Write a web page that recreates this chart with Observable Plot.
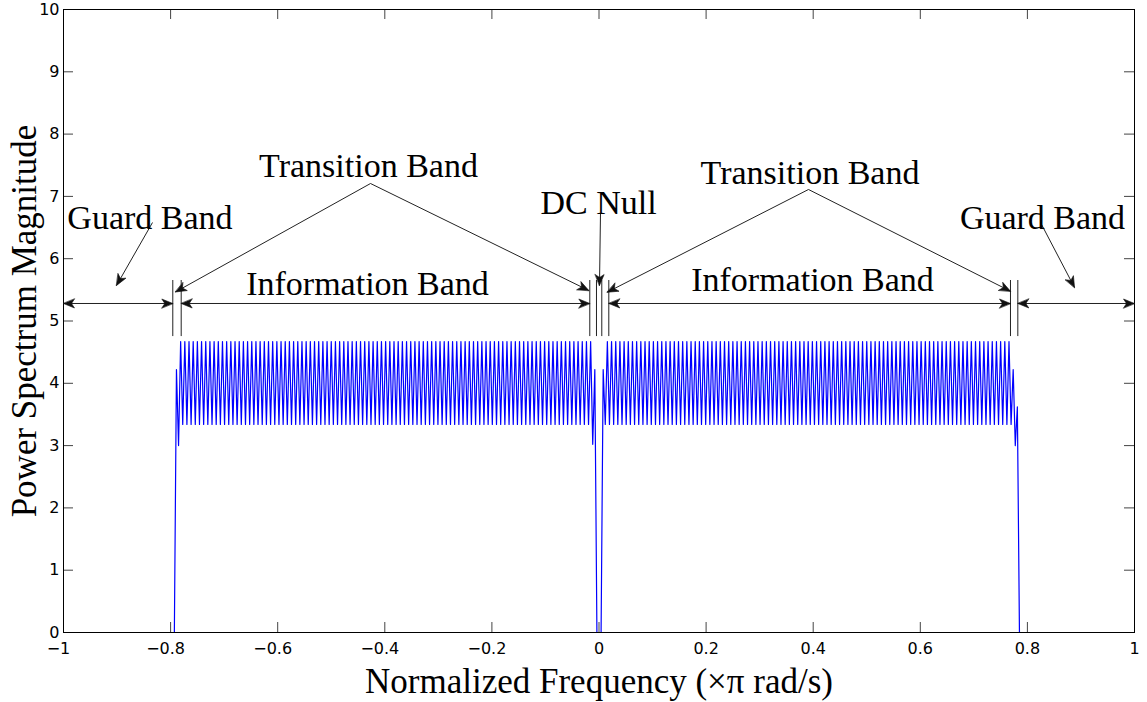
<!DOCTYPE html>
<html><head><meta charset="utf-8">
<script src="https://cdn.jsdelivr.net/npm/d3@7"></script>
<script src="https://cdn.jsdelivr.net/npm/@observablehq/plot@0.6"></script>
<style>body{margin:0;background:#fff}</style>
</head><body><div id="chart"></div>
<script>
// ---- data: power spectrum samples (bin index k, frequency = k / 256 ×π rad/s) ----
const binStart = -203;
const binsPerUnit = 256;
const magnitudes = [
  0, 4.22, 3.0,
  4.67, 3.34, 4.67, 3.34, 4.67, 3.34, 4.67, 3.34, 4.67, 3.34, 4.67, 3.34, 4.67, 3.34, 4.67, 3.34, 4.67, 3.34, 4.67, 3.34,
  4.67, 3.34, 4.67, 3.34, 4.67, 3.34, 4.67, 3.34, 4.67, 3.34, 4.67, 3.34, 4.67, 3.34, 4.67, 3.34, 4.67, 3.34, 4.67, 3.34,
  4.67, 3.34, 4.67, 3.34, 4.67, 3.34, 4.67, 3.34, 4.67, 3.34, 4.67, 3.34, 4.67, 3.34, 4.67, 3.34, 4.67, 3.34, 4.67, 3.34,
  4.67, 3.34, 4.67, 3.34, 4.67, 3.34, 4.67, 3.34, 4.67, 3.34, 4.67, 3.34, 4.67, 3.34, 4.67, 3.34, 4.67, 3.34, 4.67, 3.34,
  4.67, 3.34, 4.67, 3.34, 4.67, 3.34, 4.67, 3.34, 4.67, 3.34, 4.67, 3.34, 4.67, 3.34, 4.67, 3.34, 4.67, 3.34, 4.67, 3.34,
  4.67, 3.34, 4.67, 3.34, 4.67, 3.34, 4.67, 3.34, 4.67, 3.34, 4.67, 3.34, 4.67, 3.34, 4.67, 3.34, 4.67, 3.34, 4.67, 3.34,
  4.67, 3.34, 4.67, 3.34, 4.67, 3.34, 4.67, 3.34, 4.67, 3.34, 4.67, 3.34, 4.67, 3.34, 4.67, 3.34, 4.67, 3.34, 4.67, 3.34,
  4.67, 3.34, 4.67, 3.34, 4.67, 3.34, 4.67, 3.34, 4.67, 3.34, 4.67, 3.34, 4.67, 3.34, 4.67, 3.34, 4.67, 3.34, 4.67, 3.34,
  4.67, 3.34, 4.67, 3.34, 4.67, 3.34, 4.67, 3.34, 4.67, 3.34, 4.67, 3.34, 4.67, 3.34, 4.67, 3.34, 4.67, 3.34, 4.67, 3.34,
  4.67, 3.34, 4.67, 3.34, 4.67, 3.34, 4.67, 3.34, 4.67, 3.34, 4.67, 3.34, 4.67, 3.34, 4.67, 3.34,
  4.67,
  3.02, 4.22, 0, 0, 0, 4.22, 3.34,
  4.67, 3.34, 4.67, 3.34, 4.67, 3.34, 4.67, 3.34, 4.67, 3.34, 4.67, 3.34, 4.67, 3.34, 4.67, 3.34, 4.67, 3.34, 4.67, 3.34,
  4.67, 3.34, 4.67, 3.34, 4.67, 3.34, 4.67, 3.34, 4.67, 3.34, 4.67, 3.34, 4.67, 3.34, 4.67, 3.34, 4.67, 3.34, 4.67, 3.34,
  4.67, 3.34, 4.67, 3.34, 4.67, 3.34, 4.67, 3.34, 4.67, 3.34, 4.67, 3.34, 4.67, 3.34, 4.67, 3.34, 4.67, 3.34, 4.67, 3.34,
  4.67, 3.34, 4.67, 3.34, 4.67, 3.34, 4.67, 3.34, 4.67, 3.34, 4.67, 3.34, 4.67, 3.34, 4.67, 3.34, 4.67, 3.34, 4.67, 3.34,
  4.67, 3.34, 4.67, 3.34, 4.67, 3.34, 4.67, 3.34, 4.67, 3.34, 4.67, 3.34, 4.67, 3.34, 4.67, 3.34, 4.67, 3.34, 4.67, 3.34,
  4.67, 3.34, 4.67, 3.34, 4.67, 3.34, 4.67, 3.34, 4.67, 3.34, 4.67, 3.34, 4.67, 3.34, 4.67, 3.34, 4.67, 3.34, 4.67, 3.34,
  4.67, 3.34, 4.67, 3.34, 4.67, 3.34, 4.67, 3.34, 4.67, 3.34, 4.67, 3.34, 4.67, 3.34, 4.67, 3.34, 4.67, 3.34, 4.67, 3.34,
  4.67, 3.34, 4.67, 3.34, 4.67, 3.34, 4.67, 3.34, 4.67, 3.34, 4.67, 3.34, 4.67, 3.34, 4.67, 3.34, 4.67, 3.34, 4.67, 3.34,
  4.67, 3.34, 4.67, 3.34, 4.67, 3.34, 4.67, 3.34, 4.67, 3.34, 4.67, 3.34, 4.67, 3.34, 4.67, 3.34, 4.67, 3.34, 4.67, 3.34,
  4.67, 3.34, 4.67, 3.34, 4.67, 3.34, 4.67, 3.34, 4.67, 3.34, 4.67, 3.34,
  4.67,
  3.34, 4.22, 3.0, 3.62, 0
];
if (magnitudes.length !== 405) throw new Error("magnitudes length " + magnitudes.length);
const edgeFreqs = [-1, 1];

// ---- axes ----
const xTicks = [-1, -0.8, -0.6, -0.4, -0.2, 0, 0.2, 0.4, 0.6, 0.8, 1];
const yTicks = [0, 1, 2, 3, 4, 5, 6, 7, 8, 9, 10];
const xTitle = "Normalized Frequency (×π rad/s)";
const yTitle = "Power Spectrum Magnitude";

// ---- annotations (data coordinates) ----
const labelText = ["Guard Band", "Transition Band", "DC Null", "Transition Band", "Guard Band", "Information Band", "Information Band"];
const labelX = [-0.8385, -0.4304, -0.0009, 0.3940, 0.8282, -0.4323, 0.3987];
const labelY = [6.645, 7.49, 6.886, 7.376, 6.645, 5.60, 5.65];

const arrowX1 = [-0.8338, -0.4267, -0.4267, 0.0028, 0.3912, 0.3912, 0.8245];
const arrowY1 = [6.581, 7.207, 7.207, 6.726, 7.111, 7.111, 6.581];
const arrowX2 = [-0.9010, -0.7909, -0.0191, 0.0009, 0.0153, 0.7684, 0.8880];
const arrowY2 = [5.570, 5.466, 5.490, 5.570, 5.462, 5.478, 5.538];

const spanX1 = [-1, -0.7802, 0.0183, 0.7821];
const spanX2 = [-0.7959, -0.0172, 0.7684, 1];
const spanY = 5.281;

const barX = [-0.7959, -0.7802, -0.0172, -0.0047, 0.0052, 0.0183, 0.7684, 0.7821];
const barY1 = 4.75, barY2 = 5.65;

// ---- layout ----
const W = 1147, H = 702, mL = 63, mR = 13, mT = 9, mB = 70;
const frameW = W - mL - mR, frameH = H - mT - mB, tickLen = 10;
const xDomain = [-1, 1], yDomain = [0, 10];
const pxPerX = frameW / (xDomain[1] - xDomain[0]);
const pxPerY = frameH / (yDomain[1] - yDomain[0]);
const serif = "Liberation Serif";
const fmt = d => (d < 0 ? "\u2212" : "") + String(Math.abs(d));

// ---- tables ----
const spectrum = [
  {f: edgeFreqs[0], m: 0},
  ...magnitudes.map((m, i) => ({f: (binStart + i) / binsPerUnit, m})),
  {f: edgeFreqs[1], m: 0}
];
const labels = labelText.map((t, i) => ({t, x: labelX[i], y: labelY[i]}));
// every line segment, and one arrowhead per pointed end
const segments = [
  ...arrowX1.map((x1, i) => ({x1, y1: arrowY1[i], x2: arrowX2[i], y2: arrowY2[i]})),
  ...spanX1.map((x1, i) => ({x1, y1: spanY, x2: spanX2[i], y2: spanY}))
];
const heading = (fx, fy, tx, ty) => Math.atan2((tx - fx) * pxPerX, (ty - fy) * pxPerY) * 180 / Math.PI;
const heads = [
  ...segments.map(s => ({x: s.x2, y: s.y2, a: heading(s.x1, s.y1, s.x2, s.y2)})),
  ...spanX1.map((x1, i) => ({x: x1, y: spanY, a: heading(spanX2[i], spanY, x1, spanY)}))
];
const bars = barX.map(x => ({x, y1: barY1, y2: barY2}));

// filled MATLAB-like arrowhead (tip at the end of the vector)
const headShape = {
  draw(context, l) {
    const w = 4.5, notch = 3;
    context.moveTo(0, -l);
    context.lineTo(-w, 0);
    context.lineTo(0, -notch);
    context.lineTo(w, 0);
    context.closePath();
  }
};

const plot = Plot.plot({
  width: W, height: H,
  marginLeft: mL, marginRight: mR, marginTop: mT, marginBottom: mB,
  x: {domain: xDomain, axis: null},
  y: {domain: yDomain, axis: null},
  style: {fontFamily: "DejaVu Sans", fontSize: "16px", background: "white", color: "black", overflow: "visible"},
  marks: [
    Plot.ruleX(xTicks, {x: d => d, stroke: "#444", insetTop: frameH - tickLen}),
    Plot.ruleX(xTicks, {x: d => d, stroke: "#444", insetBottom: frameH - tickLen}),
    Plot.ruleY(yTicks, {y: d => d, stroke: "#444", insetRight: frameW - tickLen}),
    Plot.ruleY(yTicks, {y: d => d, stroke: "#444", insetLeft: frameW - tickLen}),
    Plot.line(spectrum, {x: "f", y: "m", stroke: "#0000ff", strokeWidth: 1.2}),
    Plot.frame({stroke: "black"}),
    Plot.text(xTicks.filter(d => d < 0), {x: d => d, frameAnchor: "bottom", lineAnchor: "middle", textAnchor: "middle", dy: 16, dx: -5, text: fmt}),
    Plot.text(xTicks.filter(d => d >= 0), {x: d => d, frameAnchor: "bottom", lineAnchor: "middle", textAnchor: "middle", dy: 16, text: fmt}),
    Plot.text(yTicks, {y: d => d, frameAnchor: "left", lineAnchor: "middle", dx: -4, textAnchor: "end", text: d => String(d)}),
    Plot.text([xTitle], {frameAnchor: "bottom", lineAnchor: "middle", textAnchor: "middle", dy: 49, text: d => d, fontFamily: serif, fontSize: 35}),
    Plot.text([yTitle], {frameAnchor: "left", lineAnchor: "middle", textAnchor: "middle", dx: -39, rotate: -90, text: d => d, fontFamily: serif, fontSize: 35}),
    Plot.ruleX(bars, {x: "x", y1: "y1", y2: "y2", stroke: "#222", strokeWidth: 1}),
    Plot.link(segments, {x1: "x1", y1: "y1", x2: "x2", y2: "y2", stroke: "#222", strokeWidth: 1}),
    Plot.vector(heads, {x: "x", y: "y", rotate: "a", length: 11, anchor: "end", shape: headShape, fill: "#111", stroke: "#111", strokeWidth: 0.6}),
    Plot.text(labels, {x: "x", y: "y", text: "t", fontFamily: serif, fontSize: 34})
  ]
});
document.getElementById("chart").appendChild(plot);
</script>
</body></html>
